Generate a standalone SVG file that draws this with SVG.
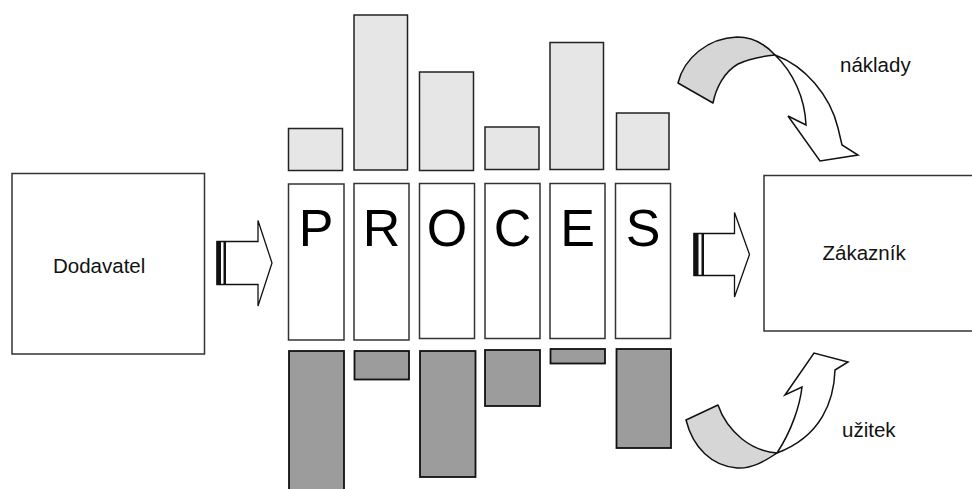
<svg xmlns="http://www.w3.org/2000/svg" width="972" height="489" viewBox="0 0 972 489">
<style>
  .box{fill:#fff;stroke:#333;stroke-width:1.5}
  .hi{fill:#e6e6e6;stroke:#222;stroke-width:1.5}
  .lo{fill:#9c9c9c;stroke:#111;stroke-width:1.8}
  .lbl{font-family:"Liberation Sans",Arial,sans-serif;font-size:20.5px;fill:#111}
  .big{font-family:"Liberation Sans",Arial,sans-serif;font-size:52px;fill:#000;text-anchor:middle}
  .arr{fill:#fff;stroke:#111;stroke-width:1.3;stroke-linejoin:miter}
  .bar{fill:#111}
  .gray{fill:#d6d6d6;stroke:#111;stroke-width:1.5;stroke-linejoin:round}
  .white{fill:#fff;stroke:#111;stroke-width:1.5;stroke-linejoin:miter}
</style>
<rect width="972" height="489" fill="#fff"/>

<g id="dodavatel">
  <rect class="box" x="12" y="173.5" width="192.5" height="180.5"/>
  <text class="lbl" x="53" y="273">Dodavatel</text>
</g>

<g id="zakaznik">
  <rect class="box" x="764" y="175.5" width="215" height="155.5"/>
  <text class="lbl" x="822.5" y="260">Zákazník</text>
</g>

<g id="costs">
  <rect class="hi" x="288.5" y="128.5" width="54" height="42"/>
  <rect class="hi" x="354" y="15" width="53.5" height="155"/>
  <rect class="hi" x="419.5" y="72" width="54" height="98.5"/>
  <rect class="hi" x="485" y="127" width="54" height="42.5"/>
  <rect class="hi" x="550" y="42.5" width="53.5" height="127"/>
  <rect class="hi" x="616.5" y="113" width="52.5" height="56.5"/>
</g>

<g id="proces">
  <rect class="box" x="288.5" y="184" width="55.5" height="156"/>
  <rect class="box" x="354" y="183.5" width="55" height="156.5"/>
  <rect class="box" x="419.5" y="183.5" width="55" height="155"/>
  <rect class="box" x="485" y="183.5" width="55" height="155"/>
  <rect class="box" x="550" y="183.5" width="55" height="155"/>
  <rect class="box" x="615.5" y="183.5" width="55" height="155"/>
  <text class="big" x="316" y="246">P</text>
  <text class="big" x="381.5" y="246">R</text>
  <text class="big" x="447" y="246">O</text>
  <text class="big" x="512.5" y="246">C</text>
  <text class="big" x="577.5" y="246">E</text>
  <text class="big" x="643" y="246">S</text>
</g>

<g id="benefits">
  <rect class="lo" x="289" y="351" width="55" height="142"/>
  <rect class="lo" x="354.5" y="351" width="54.5" height="28.5"/>
  <rect class="lo" x="420" y="351" width="55.5" height="126"/>
  <rect class="lo" x="485" y="350" width="55" height="56"/>
  <rect class="lo" x="550.5" y="349" width="54.5" height="14.5"/>
  <rect class="lo" x="616.5" y="349" width="54.5" height="99"/>
</g>

<g id="connectors">
  <!-- left block arrow -->
  <path class="arr" d="M217,241.5 H258 V220.5 L272,263 L258,306 V284.5 H217 Z"/>
  <rect class="bar" x="216.5" y="241" width="4.5" height="44"/>
  <rect class="bar" x="223.5" y="241" width="2.5" height="44"/>
  <!-- right block arrow -->
  <path class="arr" d="M694,233.5 H734.5 V212.5 L749.5,254.5 L734.5,297 V275.5 H694 Z"/>
  <rect class="bar" x="693.5" y="233" width="5" height="43"/>
  <rect class="bar" x="701.5" y="233" width="2.5" height="43"/>

  <!-- náklady curved arrow -->
  <g id="costArrow">
    <path class="gray" d="M678,83 C684,58 708,38 737,37 C755,37 766,45 775,55 C765,56 750,58 738,64 C724,72 716,88 713,103 Z"/>
    <path class="white" d="M775,55 C805,66 830,95 838,128 L842,145 L858,155 L820,161 L788,116 L806,125 C805,98 793,72 775,55 Z"/>
  </g>
  <!-- užitek curved arrow -->
  <g id="benefitArrow">
    <path class="gray" d="M686,420 C693,448 712,466 737,468 C752,469 765,461 777,453 C765,452 752,447 742,439 C730,429 722,417 718,405 Z"/>
    <path class="white" d="M777,453 C792,430 800,405 802,387 L785,395 L814,353 L848,362 L835,370 C834,400 822,436 777,453 Z"/>
  </g>
</g>

<g id="labels">
  <text class="lbl" x="840" y="72">náklady</text>
  <text class="lbl" x="842" y="437">užitek</text>
</g>
</svg>
